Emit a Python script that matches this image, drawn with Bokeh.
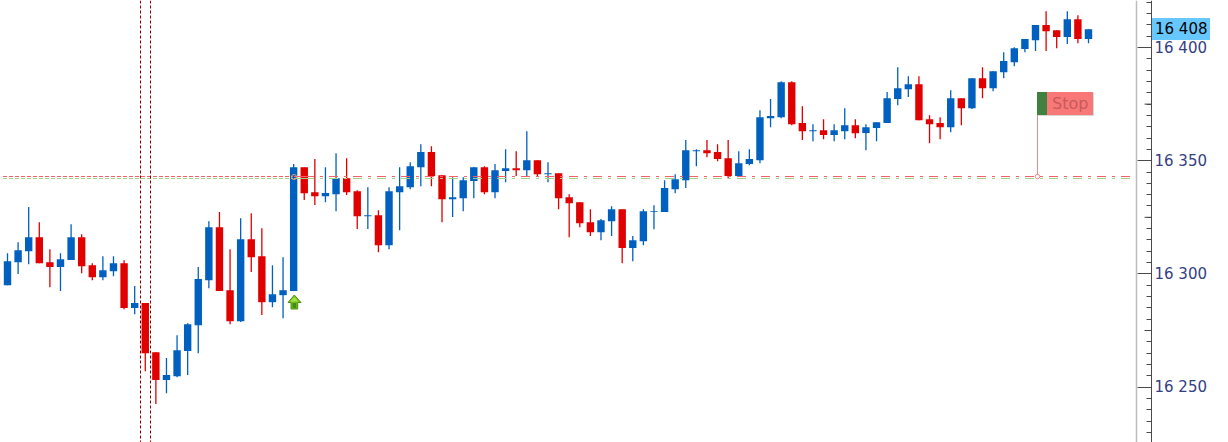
from bokeh.plotting import figure
from bokeh.models import Range1d, FixedTicker, Span, ColumnDataSource
from bokeh.core.properties import value
from bokeh.embed import file_html
from bokeh.resources import INLINE

opens = [16299.0,16295.0,16305.2,16310.0,16316.2,16305.2,16303.0,16306.1,16316.2,16303.8,
 16298.5,16301.2,16304.7,16284.9,16287.1,16265.4,16253.1,16254.8,16265.9,16277.3,
 16297.2,16320.6,16292.8,16279.1,16315.3,16307.8,16287.5,16290.6,16292.4,16347.1,
 16336.1,16334.3,16335.2,16342.3,16336.5,16325.5,16325.9,16312.7,16336.1,16338.3,
 16347.1,16353.8,16343.6,16333.0,16333.4,16341.0,16347.1,16336.1,16345.4,16346.7,
 16345.8,16350.2,16344.0,16344.5,16333.9,16331.7,16322.8,16318.4,16323.3,16328.6,
 16311.4,16314.4,16327.3,16327.3,16337.4,16341.4,16354.2,16354.6,16353.8,16351.1,
 16343.2,16348.5,16350.2,16368.8,16369.2,16384.7,16366.6,16363.0,16363.5,16361.3,
 16363.0,16365.7,16362.2,16364.4,16366.6,16377.2,16381.6,16383.8,16368.3,16366.6,
 16364.8,16377.6,16373.2,16386.4,16382.0,16389.1,16393.5,16399.3,16403.2,16409.9,
 16407.6,16404.6,16412.5,16403.7]
highs = [16299.0,16309.1,16314.0,16329.5,16322.8,16310.9,16309.1,16321.9,16317.5,16304.7,
 16307.8,16307.8,16306.0,16294.6,16287.1,16265.4,16262.8,16272.9,16278.2,16303.0,
 16323.3,16327.3,16310.9,16324.6,16326.8,16320.2,16303.8,16307.4,16348.5,16347.1,
 16350.7,16347.1,16353.3,16351.1,16337.0,16338.3,16328.1,16338.3,16347.1,16349.3,
 16357.3,16356.4,16343.6,16342.7,16342.7,16347.1,16347.6,16348.5,16355.1,16354.2,
 16363.0,16350.2,16349.3,16344.5,16335.2,16331.7,16328.6,16324.2,16329.9,16328.6,
 16316.7,16328.6,16330.3,16341.4,16344.0,16359.1,16355.1,16359.1,16357.3,16359.1,
 16354.2,16355.1,16372.3,16377.2,16385.1,16385.1,16374.1,16366.1,16368.3,16366.1,
 16373.2,16368.3,16366.1,16367.0,16380.3,16391.3,16387.3,16387.3,16370.1,16369.2,
 16381.1,16377.6,16386.4,16391.3,16389.5,16397.9,16400.1,16403.7,16409.9,16416.0,
 16407.6,16416.0,16414.3,16408.1]
lows = [16295.0,16295.0,16299.9,16304.3,16304.7,16294.1,16292.4,16306.1,16300.3,16297.2,
 16297.2,16299.0,16284.4,16282.2,16257.0,16242.5,16247.3,16254.4,16255.3,16265.0,
 16293.7,16292.4,16277.8,16278.7,16300.8,16281.8,16285.3,16280.4,16292.4,16332.6,
 16330.4,16331.7,16327.7,16334.8,16319.8,16319.8,16309.6,16310.9,16319.3,16337.4,
 16338.7,16338.7,16322.8,16325.1,16327.7,16333.4,16335.2,16333.4,16340.5,16343.2,
 16343.2,16343.2,16340.5,16328.6,16316.2,16320.6,16316.7,16314.9,16316.7,16304.7,
 16305.6,16312.7,16319.7,16327.3,16335.6,16337.9,16347.6,16351.5,16349.8,16342.3,
 16343.2,16348.0,16348.9,16364.8,16368.8,16365.7,16359.1,16358.6,16359.5,16358.6,
 16359.5,16359.9,16354.6,16358.6,16366.6,16374.5,16378.1,16367.9,16357.7,16359.5,
 16362.6,16365.7,16372.8,16377.6,16380.7,16386.4,16391.7,16397.9,16398.4,16398.4,
 16399.7,16401.5,16401.9,16401.9]
closes = [16295.0,16305.6,16310.5,16316.2,16304.7,16303.0,16306.5,16316.2,16303.4,16298.5,
 16301.6,16304.7,16284.9,16287.1,16265.0,16253.1,16255.3,16266.3,16277.8,16297.7,
 16320.6,16292.4,16279.1,16315.3,16307.4,16287.5,16291.0,16292.8,16347.1,16335.6,
 16334.3,16335.7,16342.3,16336.1,16325.5,16325.9,16312.7,16336.5,16338.7,16347.6,
 16353.8,16343.2,16333.0,16333.9,16341.4,16347.1,16336.1,16345.8,16346.7,16345.8,
 16350.2,16344.0,16344.5,16333.4,16331.2,16322.4,16318.4,16323.7,16328.6,16311.4,
 16314.9,16327.7,16327.7,16337.9,16341.8,16354.6,16354.6,16353.3,16350.7,16343.2,
 16348.9,16350.7,16369.2,16369.7,16384.7,16366.1,16363.0,16363.5,16361.3,16363.5,
 16365.7,16362.1,16364.8,16367.0,16377.6,16382.0,16383.8,16367.9,16366.1,16364.8,
 16377.6,16373.2,16386.4,16382.0,16389.5,16394.0,16399.7,16403.7,16409.9,16407.2,
 16404.6,16412.5,16403.7,16408.1]
index = list(range(len(opens)))

major_ticks = [16250, 16300, 16350, 16400]
tick_labels = {16250: "16 250", 16300: "16 300", 16350: "16 350", 16400: "16 400"}
medium_ticks = [16275, 16325, 16375]
minor_ticks = list(range(16230, 16425, 5))
stop_level = 16343.02
take_level = 16342.14
last_price = 16408
last_label = "16 408"
flag_label = "Stop"

BLUE, RED = "#0060c0", "#e00000"
STEP = 10.598
FW, FH = 1228, 442

def X(px):
    return 1 + (px - 7.5) / STEP

def Y(py):
    return 16400 + (47.5 - py) * 0.4417

p = figure(frame_width=FW, frame_height=FH, output_backend="svg", toolbar_location=None,
           x_range=Range1d(X(0.5), X(FW + 0.5)), y_range=Range1d(Y(FH + 0.5), Y(0.5)),
           x_axis_location=None, y_axis_location="right",
           min_border=0, min_border_left=0, min_border_right=0,
           min_border_top=0, min_border_bottom=0,
           outline_line_color=None, background_fill_color="white")
p.grid.visible = False

ax = p.yaxis[0]
ax.fixed_location = X(1151.5)
ax.ticker = FixedTicker(ticks=major_ticks, minor_ticks=minor_ticks)
ax.major_label_overrides = tick_labels
ax.axis_line_color = "#4a4a4a"
ax.major_tick_line_color = "#4a4a4a"
ax.minor_tick_line_color = "#4a4a4a"
ax.major_tick_in = 14
ax.major_tick_out = 0
ax.minor_tick_in = 5
ax.minor_tick_out = 0
ax.major_label_standoff = 3
ax.major_label_text_font = "DejaVu Sans"
ax.major_label_text_font_size = "15px"
ax.major_label_text_color = "#34407f"

# chart / scale separator and medium ticks
p.add_layout(Span(location=X(1136.5), dimension="height", line_color="#bdbdbd", line_width=1.5))
p.segment(x0=[X(1144.5)] * len(medium_ticks), x1=[X(1151.5)] * len(medium_ticks),
          y0=medium_ticks, y1=medium_ticks, line_color="#4a4a4a", line_width=1)

# candles
up = [c >= o for o, c in zip(opens, closes)]
colors = [BLUE if u else RED for u in up]
src = ColumnDataSource(dict(x=index, o=opens, h=highs, l=lows, c=closes, color=colors,
                            top=[max(a, b) for a, b in zip(opens, closes)],
                            bottom=[min(a, b) for a, b in zip(opens, closes)]))
p.segment(x0="x", x1="x", y0="l", y1="h", color="color", line_width=1.3, source=src)
p.vbar(x="x", width=7.4 / STEP, top="top", bottom="bottom", fill_color="color",
       line_color=None, source=src)

# vertical dotted lines
for px in (140.5, 150.5):
    p.add_layout(Span(location=X(px), dimension="height", line_color="#8b0000",
                      line_width=1, line_dash="3 2"))

# horizontal order levels
SL, TP = "#f8606a", "#a4d284"
for level, col in ((stop_level, SL), (take_level, TP)):
    p.line([X(3), X(293)], [level, level], line_color=col, line_width=1, line_dash="4 2")
    p.line([X(305), X(1131)], [level, level], line_color=col, line_width=1, line_dash="9 6 3 6")
    p.line([X(294), X(305)], [level, level], line_color=col, line_width=1)
p.scatter([X(294)], [Y(177)], marker="circle", size=5, fill_color=None, line_color="#f2a070", line_width=1)

# entry arrow
ax_px = [294.3, 301, 297.7, 297.7, 291, 291, 288]
ay_px = [295, 302.5, 302.5, 309, 309, 302.5, 302.5]
p.patch([X(v) for v in ax_px], [Y(v) for v in ay_px], fill_color="#74bd22", line_color="#4e9214", line_width=1)
p.patch([X(v) for v in [294.3, 298.5, 290]], [Y(v) for v in [297, 301.5, 301.5]],
        fill_color="#a4e040", line_color=None)
p.patch([X(v) for v in [292.5, 296.3, 296.3, 292.5]], [Y(v) for v in [303, 303, 308, 308]],
        fill_color="#3f8f10", line_color=None)

# stop flag
p.line([X(1037.5), X(1037.5)], [Y(115), Y(176.5)], line_color="#f08a8a", line_width=1)
p.scatter([X(1037.5)], [Y(176.5)], marker="circle", size=4.5, fill_color="white", line_color="#f08a8a", line_width=1)
p.quad(left=[X(1038)], right=[X(1094)], top=[Y(93)], bottom=[Y(116)], fill_color="#d8d8d8", line_color=None)
p.quad(left=[X(1047)], right=[X(1093)], top=[Y(92)], bottom=[Y(115)], fill_color="#f87878", line_color=None)
p.quad(left=[X(1037)], right=[X(1047)], top=[Y(92)], bottom=[Y(115)], fill_color="#408040", line_color=None)
p.text([X(1052)], [Y(103.5)], text=[flag_label], text_font=value("DejaVu Sans"), text_font_size="16px",
       text_color="#c85a5a", text_baseline="middle", text_align="left")

# last price tag
p.quad(left=[X(1152)], right=[X(1210)], top=[Y(18)], bottom=[Y(40)], fill_color="#66c8ff", line_color=None)
p.text([X(1155)], [last_price], text=[last_label], text_font=value("DejaVu Sans"), text_font_size="15px",
       text_color="#000000", text_baseline="middle", text_align="left")

open("out.html", "w").write(file_html(p, INLINE))
